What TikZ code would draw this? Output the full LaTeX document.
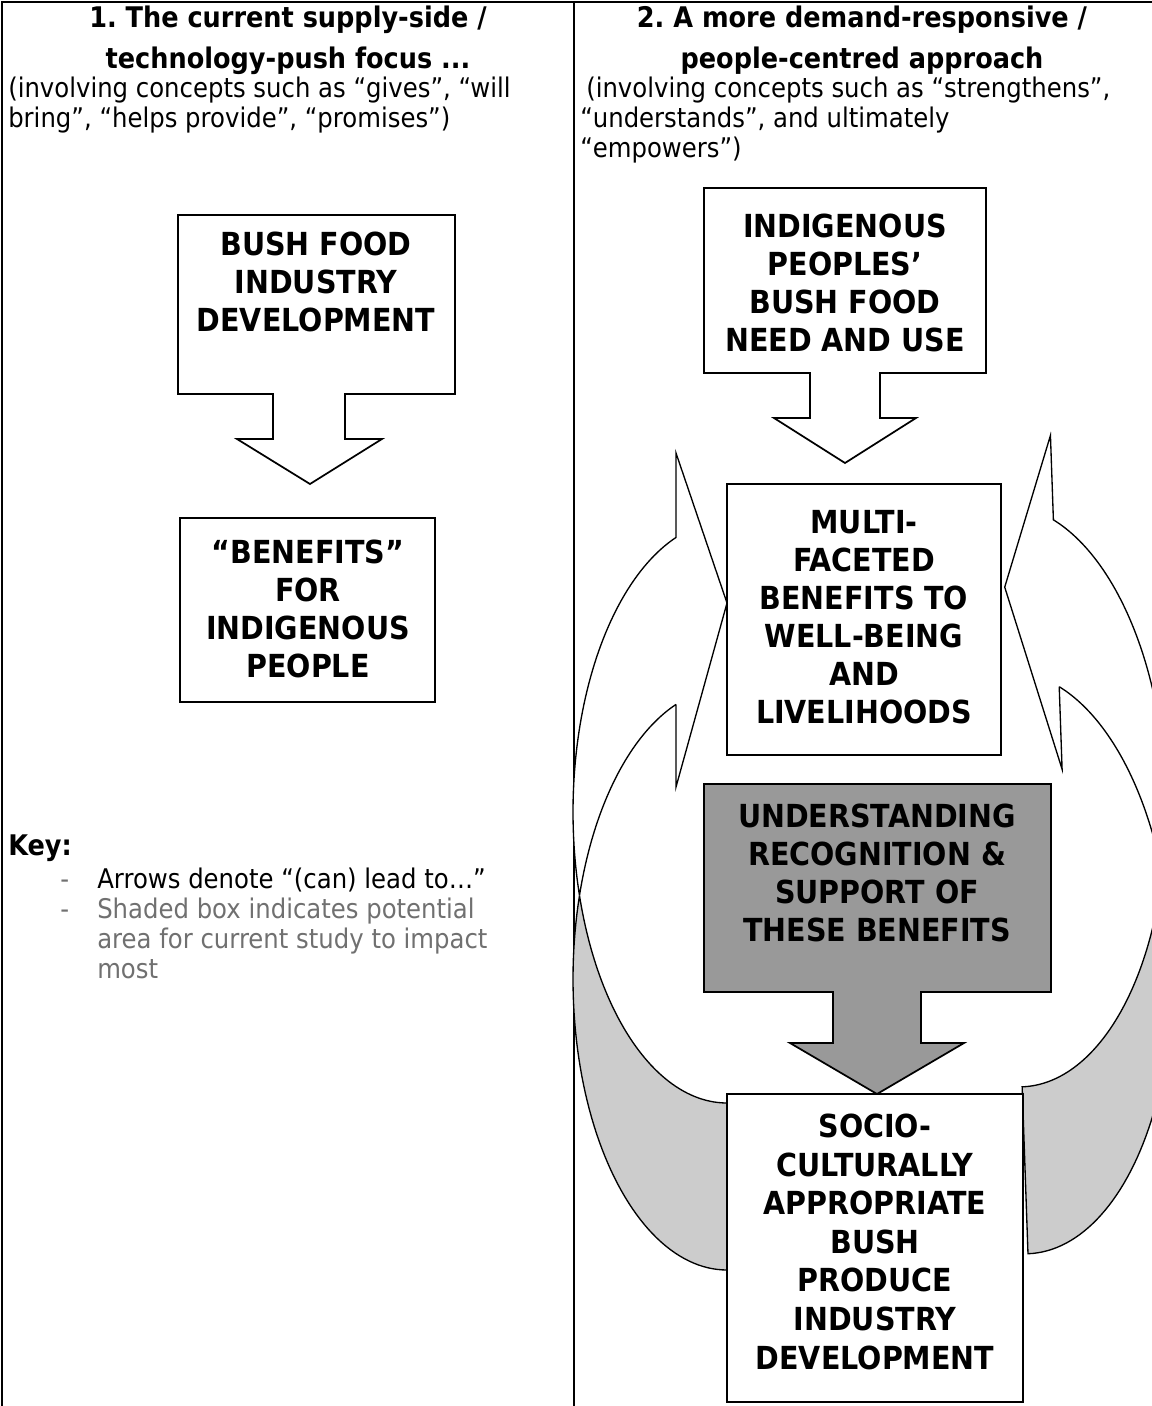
\documentclass[tikz,border=0pt]{standalone}
\usepackage{fontspec}
\setmainfont{DejaVu Sans}[FakeStretch=0.9]
\frenchspacing
\definecolor{shadebox}{HTML}{999999}
\definecolor{backface}{HTML}{CCCCCC}
\definecolor{keygray}{HTML}{707070}
\begin{document}
\begin{tikzpicture}[x=0.75pt,y=-0.75pt,
  boxline/.style={line width=1.3pt,draw=black,line join=miter},
  curveline/.style={line width=1pt,draw=black,line join=miter},
  tableline/.style={line width=1.5pt,draw=black},
  boxtext/.style={font=\bfseries\fontsize{23.8}{28.5}\selectfont,align=center,inner sep=0pt,anchor=north},
  hdrtext/.style={font=\bfseries\fontsize{21.3}{30}\selectfont,inner sep=0pt,anchor=base},
  bodytext/.style={font=\fontsize{20.3}{22.5}\selectfont,inner sep=0pt,anchor=base west},
  keytext/.style={font=\fontsize{20.3}{22.5}\selectfont,inner sep=0pt,anchor=base west},
  arc/.style={variable=\t,samples=60}]
\useasboundingbox (0,0) rectangle (1152,1406);
\begin{scope}
\clip (0,0) rectangle (1152,1406);
% table lines
\draw[tableline] (2,1406) -- (2,2) -- (1152,2);
\draw[tableline] (574,2) -- (574,1406);

% headers
\node[hdrtext] (h1a) at (288,27) {1. The current supply-side /};
\node[hdrtext] (h1b) at (288,68) {technology-push focus ...};
\node[hdrtext] (h2a) at (862,27) {2. A more demand-responsive /};
\node[hdrtext] (h2b) at (862,68) {people-centred approach};
\node[bodytext] (b1a) at (8,97) {(involving concepts such as “gives”, “will};
\node[bodytext] (b1b) at (8,127) {bring”, “helps provide”, “promises”)};
\node[bodytext] (b2a) at (586,97) {(involving concepts such as “strengthens”,};
\node[bodytext] (b2b) at (580,127) {“understands”, and ultimately};
\node[bodytext] (b2c) at (580,157) {“empowers”)};

% key
\node[hdrtext,anchor=base west] (key) at (8,855) {Key:};
\node[keytext,text=keygray] (d1) at (60,888) {-};
\node[keytext,text=keygray] (d2) at (60,918) {-};
\node[keytext] (k1) at (97,888) {Arrows denote “(can) lead to…”};
\node[keytext,text=keygray] (k2) at (97,918) {Shaded box indicates potential};
\node[keytext,text=keygray] (k3) at (97,948) {area for current study to impact};
\node[keytext,text=keygray] (k4) at (97,978) {most};

% left column boxes
\filldraw[fill=white,boxline] (178,215) -- (455,215) -- (455,394) -- (345,394) -- (345,439) -- (382,439) -- (310,484) -- (237,439) -- (273,439) -- (273,394) -- (178,394) -- cycle;
\node[boxtext] (t1) at (316,232) {BUSH FOOD\\INDUSTRY\\DEVELOPMENT};
\filldraw[fill=white,boxline] (180,518) rectangle (435,702);
\node[boxtext] (t2) at (308,540) {“BENEFITS”\\FOR\\INDIGENOUS\\PEOPLE};

% curved arrows (same shape; local origin = centre of upper ellipse)
\foreach \sx/\sy/\sc/\rot in {727/812/1/0, 1012/796/-1/2}{
\begin{scope}[shift={(\sx,\sy)},rotate=\rot,xscale=\sc]
% back face (shaded)
\filldraw[fill=backface,curveline] plot[arc,domain=196.68:270] ({154*cos(\t)},{-291*sin(\t)}) -- (0,458) -- plot[arc,domain=270:163.32] ({154*cos(\t)},{167-291*sin(\t)}) -- cycle;
% front face with head
\filldraw[fill=white,curveline] (-51,-274.6) -- (-51,-359) -- (0,-209) -- (-51,-25) -- (-51,-107.6) -- plot[arc,domain=109.34:163.32] ({154*cos(\t)},{167-291*sin(\t)}) -- plot[arc,domain=196.68:109.34] ({154*cos(\t)},{-291*sin(\t)}) -- cycle;
\end{scope}
}

% right column boxes
\filldraw[fill=white,boxline] (704,188) -- (986,188) -- (986,373) -- (880,373) -- (880,418) -- (916,418) -- (845,463) -- (774,418) -- (810,418) -- (810,373) -- (704,373) -- cycle;
\node[boxtext] (tA) at (845,214) {INDIGENOUS\\PEOPLES’\\BUSH FOOD\\NEED AND USE};
\filldraw[fill=white,boxline] (727,484) rectangle (1001,755);
\node[boxtext] (tB) at (864,510) {MULTI-\\FACETED\\BENEFITS TO\\WELL-BEING\\AND\\LIVELIHOODS};
\filldraw[fill=shadebox,boxline] (704,784) -- (1051,784) -- (1051,992) -- (921,992) -- (921,1043) -- (964,1043) -- (877,1094) -- (790,1043) -- (833,1043) -- (833,992) -- (704,992) -- cycle;
\node[boxtext] (tC) at (877,804) {UNDERSTANDING\\RECOGNITION \&\\SUPPORT OF\\THESE BENEFITS};
\filldraw[fill=white,boxline] (727,1094) rectangle (1023,1402);
\node[boxtext,font=\bfseries\fontsize{23.8}{28.9}\selectfont] (tD) at (875,1114) {SOCIO-\\CULTURALLY\\APPROPRIATE\\BUSH\\PRODUCE\\INDUSTRY\\DEVELOPMENT};
\end{scope}
\end{tikzpicture}
\end{document}
